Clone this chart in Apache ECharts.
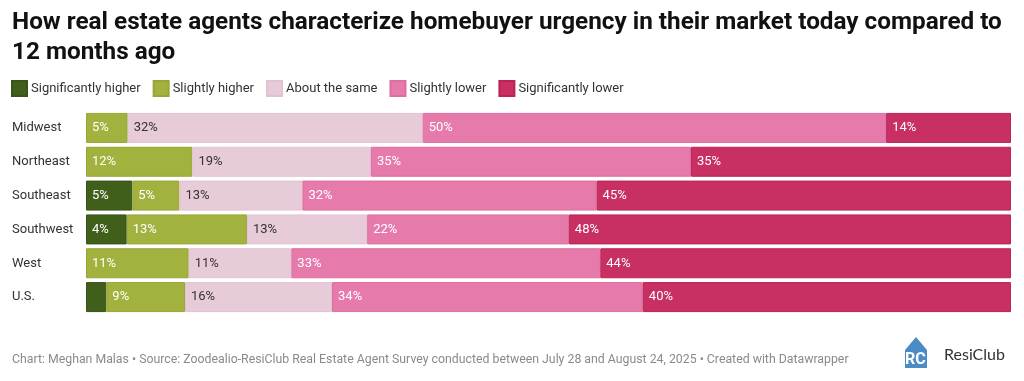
<!DOCTYPE html>
<html>
<head>
<meta charset="utf-8">
<script src="https://cdn.jsdelivr.net/npm/echarts@6/dist/echarts.min.js"></script>
<style>
html,body{margin:0;padding:0;background:#fff;}
#chart{width:1024px;height:381px;}
</style>
</head>
<body>
<div id="chart"></div>
<script>
const categories = ['Midwest', 'Northeast', 'Southeast', 'Southwest', 'West', 'U.S.'];
const seriesNames = ['Significantly higher', 'Slightly higher', 'About the same', 'Slightly lower', 'Significantly lower'];
const significantlyHigher = [0, 0, 5.0, 4.4, 0, 2.2];
const slightlyHigher = [4.5, 11.5, 5.1, 13.0, 11.1, 8.5];
const aboutTheSame = [31.9, 19.3, 13.3, 13.0, 11.1, 15.9];
const slightlyLower = [50.1, 34.6, 31.8, 21.8, 33.4, 33.6];
const significantlyLower = [13.5, 34.6, 44.8, 47.8, 44.4, 39.8];

const values = [significantlyHigher, slightlyHigher, aboutTheSame, slightlyLower, significantlyLower];
const colors = ['#3f5f1b', '#a3b23e', '#e8cbd8', '#e67aaa', '#c82f62'];
const borders = ['#37541a', '#97a636', '#e2c2d0', '#dd6e9f', '#bb2357'];
const labelColors = ['#ffffff', '#ffffff', '#333333', '#ffffff', '#ffffff'];

const chart = echarts.init(document.getElementById('chart'), null, {renderer: 'canvas'});

const series = seriesNames.map((name, i) => ({
  name: name,
  type: 'bar',
  stack: 'total',
  barWidth: 30,
  data: values[i].map(v => v > 0 ? v : null),
  itemStyle: {color: colors[i], borderColor: borders[i], borderWidth: 1},
  label: {
    show: true,
    position: 'insideLeft',
    distance: 6,
    color: labelColors[i],
    fontFamily: 'Roboto',
    fontSize: 13,
    formatter: p => (p.value >= 3 ? Math.round(p.value) + '%' : '')
  },
  emphasis: {disabled: true}
}));

chart.setOption({
  animation: false,
  color: colors,
  title: {
    text: 'How real estate agents characterize homebuyer urgency in their market today compared to\n12 months ago',
    left: 12,
    top: 8,
    padding: 0,
    textStyle: {fontFamily: 'Roboto', fontWeight: 'bold', fontSize: 24.3, color: '#111', lineHeight: 30}
  },
  legend: {
    left: 11,
    top: 80,
    padding: 0,
    itemWidth: 15,
    itemHeight: 15,
    itemGap: 12,
    icon: 'rect',
    data: seriesNames,
    textStyle: {fontFamily: 'Roboto', fontSize: 13, color: '#333', padding: [0, 0, 0, -1]},
    selectedMode: false
  },
  grid: {left: 86, right: 13, top: 111, bottom: 67, containLabel: false},
  xAxis: {type: 'value', min: 0, max: 100, show: false},
  yAxis: {
    type: 'category',
    data: categories,
    inverse: true,
    axisLine: {show: false},
    axisTick: {show: false},
    axisLabel: {align: 'left', margin: 74, fontFamily: 'Roboto', fontSize: 13, color: '#333'}
  },
  series: series,
  graphic: [
    {
      type: 'text', left: 12, top: 354,
      style: {
        text: 'Chart: Meghan Malas • Source: Zoodealio-ResiClub Real Estate Agent Survey conducted between July 28 and August 24, 2025 • Created with Datawrapper',
        fontFamily: 'Roboto', fontSize: 12.3, fill: '#8a8a8a'
      }
    },
    {
      type: 'polygon',
      shape: {points: [[905, 350], [916, 337], [927, 350], [927, 368], [905, 368]]},
      style: {fill: '#4b8cc6'}
    },
    {
      type: 'text', left: 905, top: 352,
      style: {text: 'RC', fontFamily: 'Roboto', fontWeight: 'bold', fontSize: 16, fill: '#ffffff'}
    },
    {
      type: 'text', left: 944, top: 347,
      style: {text: 'ResiClub', fontFamily: 'Lato', fontSize: 16, fill: '#333'}
    }
  ]
});
</script>
</body>
</html>
